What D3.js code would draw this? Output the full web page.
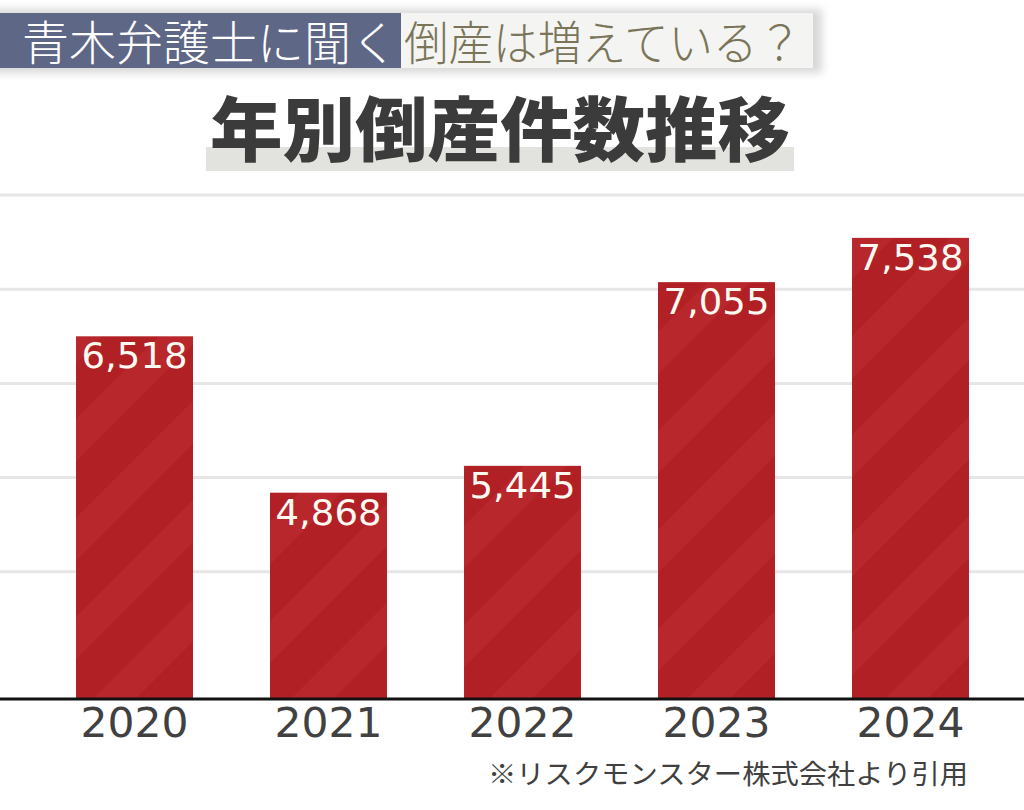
<!DOCTYPE html>
<html>
<head>
<meta charset="utf-8">
<script src="https://cdn.jsdelivr.net/npm/d3@7"></script>
<style>
  body { margin: 0; background: #fff; }
  svg { display: block; }
</style>
</head>
<body>
<div id="chart"></div>
<script>
// data
var years = ["2020", "2021", "2022", "2023", "2024"];
var counts = [6518, 4868, 5445, 7055, 7538];          // printed labels
var barLevels = [6500, 4840, 5125, 7075, 7545];       // bar tops as drawn in the picture
var gridTicks = [4000, 5000, 6000, 7000, 8000];
var headLeft = "青木弁護士に聞く";
var headRight = "倒産は増えている？";
var title = "年別倒産件数推移";
var note = "※リスクモンスター株式会社より引用";

var W = 1024, H = 810;

var svg = d3.select("#chart")
    .append("svg")
    .attr("width", W)
    .attr("height", H);

var defs = svg.append("defs");

var pat = defs.append("pattern")
    .attr("id", "stripes")
    .attr("patternUnits", "userSpaceOnUse")
    .attr("width", 70)
    .attr("height", 70)
    .attr("patternTransform", "rotate(45)");
pat.append("rect").attr("width", 70).attr("height", 70).attr("fill", "#b12025");
pat.append("rect").attr("width", 30).attr("height", 70).attr("fill", "#b7272c");

defs.append("filter").attr("id", "blur")
    .attr("x", "-10%").attr("y", "-50%").attr("width", "120%").attr("height", "200%")
    .append("feGaussianBlur").attr("stdDeviation", 4);

// scales
var x = d3.scaleBand()
    .domain(years)
    .range([-1, 1046])
    .padding(0.397);

var y = d3.scaleLinear()
    .domain([2650, 8000])
    .range([699, 195]);

// gridlines
svg.append("g")
    .selectAll("line")
    .data(gridTicks)
    .join("line")
    .attr("x1", 0)
    .attr("x2", W)
    .attr("y1", d => y(d))
    .attr("y2", d => y(d))
    .style("stroke", "#e6e6e6")
    .style("stroke-width", "3px");

// bars
svg.append("g")
    .selectAll("rect")
    .data(years)
    .join("rect")
    .attr("x", d => x(d))
    .attr("width", x.bandwidth())
    .attr("y", (d, i) => y(barLevels[i]))
    .attr("height", (d, i) => y(2650) - y(barLevels[i]))
    .style("fill", "url(#stripes)");

// value labels
svg.append("g")
    .selectAll("text")
    .data(years)
    .join("text")
    .attr("x", d => x(d) + x.bandwidth() / 2)
    .attr("y", (d, i) => y(barLevels[i]) + 32)
    .attr("text-anchor", "middle")
    .attr("textLength", 106)
    .attr("lengthAdjust", "spacingAndGlyphs")
    .style("font-family", "'DejaVu Sans', sans-serif")
    .style("font-size", "35px")
    .style("fill", "#fffaf2")
    .text((d, i) => d3.format(",")(counts[i]));

// baseline + year labels
var xAxis = svg.append("g")
    .attr("transform", "translate(0,699)")
    .call(d3.axisBottom(x).tickSize(0).tickPadding(9));
xAxis.select(".domain").remove();
xAxis.append("line")
    .attr("x1", 0).attr("x2", W)
    .style("stroke", "#111")
    .style("stroke-width", "3px");
xAxis.selectAll(".tick text")
    .attr("textLength", 108)
    .attr("lengthAdjust", "spacingAndGlyphs")
    .style("font-family", "'DejaVu Sans', sans-serif")
    .style("font-size", "41px")
    .style("fill", "#414141");

// header
svg.append("rect")
    .attr("x", -10).attr("y", 9).attr("width", 832).attr("height", 64)
    .style("fill", "#d8d8d8")
    .attr("filter", "url(#blur)");
svg.append("rect")
    .attr("x", 0).attr("y", 13).attr("width", 401).attr("height", 55)
    .style("fill", "#5e6785");
svg.append("rect")
    .attr("x", 401).attr("y", 13).attr("width", 412).attr("height", 55)
    .style("fill", "#f4f4f2");
svg.append("text")
    .attr("x", 22).attr("y", 60)
    .attr("textLength", 376)
    .attr("lengthAdjust", "spacingAndGlyphs")
    .style("font-family", "'Noto Sans CJK JP', sans-serif")
    .style("font-weight", 300)
    .style("font-size", "47px")
    .style("fill", "#fff")
    .text(headLeft);
svg.append("text")
    .attr("x", 404).attr("y", 60)
    .attr("textLength", 398)
    .attr("lengthAdjust", "spacingAndGlyphs")
    .style("font-family", "'Noto Sans CJK JP', sans-serif")
    .style("font-weight", 300)
    .style("font-size", "47px")
    .style("fill", "#7a7558")
    .text(headRight);

// title
svg.append("rect")
    .attr("x", 206).attr("y", 147).attr("width", 588).attr("height", 24)
    .style("fill", "#e2e2de");
svg.append("text")
    .attr("x", 500).attr("y", 156)
    .attr("text-anchor", "middle")
    .attr("textLength", 580)
    .attr("lengthAdjust", "spacingAndGlyphs")
    .style("font-family", "'Noto Sans CJK JP', sans-serif")
    .style("font-weight", 900)
    .style("font-size", "70px")
    .style("fill", "#3b3b3b")
    .text(title);

// footnote
svg.append("text")
    .attr("x", 488).attr("y", 784)
    .attr("textLength", 480)
    .attr("lengthAdjust", "spacingAndGlyphs")
    .style("font-family", "'Noto Sans CJK JP', sans-serif")
    .style("font-size", "27px")
    .style("fill", "#404040")
    .text(note);
</script>
</body>
</html>
